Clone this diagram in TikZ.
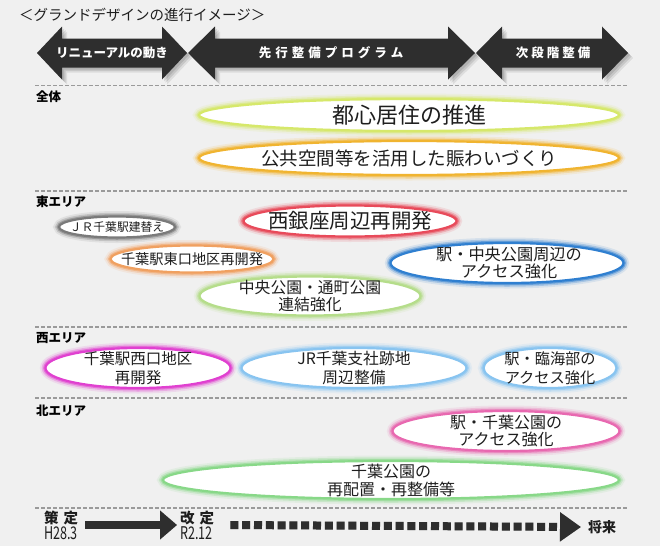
\documentclass[tikz,border=0pt]{standalone}
\usepackage{fontspec}
\setmainfont{Noto Sans CJK JP}
\usetikzlibrary{shapes.geometric,arrows.meta}
\definecolor{bg}{HTML}{F0F0F0}
\definecolor{dark}{HTML}{2E2E2E}
\definecolor{ink}{HTML}{1E1E1E}
\definecolor{dotc}{HTML}{9A9A9A}
\definecolor{cLime}{HTML}{D6E86A}
\definecolor{cGold}{HTML}{F0B430}
\definecolor{cGray}{HTML}{7A7A7A}
\definecolor{cRed}{HTML}{E84A5A}
\definecolor{cOrange}{HTML}{F0A060}
\definecolor{cBlue}{HTML}{2F7FD0}
\definecolor{cLGreen}{HTML}{B5DD8A}
\definecolor{cMagenta}{HTML}{E040D0}
\definecolor{cLBlue}{HTML}{88C4F0}
\definecolor{cPink}{HTML}{E868B0}
\definecolor{cGreen}{HTML}{88D888}
\newcommand\bannerpath[4]{(#1,53) -- (#2,26.5) -- (#2,38.5) -- (#3,38.5) -- (#3,26.5) -- (#4,53) -- (#3,79.5) -- (#3,67.5) -- (#2,67.5) -- (#2,79.5) -- cycle}
\newcommand\fsz[2]{\fontsize{#1}{#2}\selectfont}
\tikzset{
  glow/.style={ellipse, inner sep=0pt, fill=white, draw=#1, line width=2.2pt,
    preaction={draw=#1, fill=none, line width=11pt, draw opacity=0.13},
    preaction={draw=#1, fill=none, line width=7.5pt, draw opacity=0.28},
    preaction={draw=#1, fill=none, line width=4.5pt, draw opacity=0.55}},
  etext/.style={inner sep=0pt, align=center, text=ink},
  bannertext/.style={inner sep=0pt, text=white, font=\fsz{12.5}{14}\bfseries},
  arealabel/.style={inner sep=0pt, anchor=west, text=black, font=\fsz{12.5}{14}\bfseries},
  dotline/.style={dotc, line width=1.4pt, dash pattern=on 4pt off 2pt},
  fatarrow/.style={dark, line width=8pt, -{Triangle[length=17pt,width=28pt]}},
  sqarrow/.style={dark, line width=8pt, dash pattern=on 8pt off 3.8pt, -{Triangle[length=21pt,width=28pt]}},
}
\begin{document}
\begin{tikzpicture}[x=1pt,y=-1pt]
\fill[bg] (0,0) rectangle (660,546);
\useasboundingbox (0,0) rectangle (660,546);

% title
\node[inner sep=0pt, anchor=west, text=ink, font=\fsz{14.5}{16}] (title) at (19,15) {＜グランドデザインの進行イメージ＞};

% banners with shadow
\foreach \s/\o in {2/0.10,3.5/0.10,5/0.08}{
  \fill[black, opacity=\o, shift={(\s,\s)}] \bannerpath{37}{62}{162}{187};
  \fill[black, opacity=\o, shift={(\s,\s)}] \bannerpath{188}{215}{448}{475};
  \fill[black, opacity=\o, shift={(\s,\s)}] \bannerpath{476}{502}{602}{628};
}
\fill[dark] \bannerpath{37}{62}{162}{187};
\fill[dark] \bannerpath{188}{215}{448}{475};
\fill[dark] \bannerpath{476}{502}{602}{628};
\node[bannertext] (b1) at (112,53) {リニューアルの動き};
\node[bannertext] (b2) at (331,53) {先\hspace{4pt}行\hspace{4pt}整\hspace{4pt}備\hspace{4pt}プ\hspace{4pt}ロ\hspace{4pt}グ\hspace{4pt}ラ\hspace{4pt}ム};
\node[bannertext] (b3) at (553,53) {次\hspace{3pt}段\hspace{3pt}階\hspace{3pt}整\hspace{3pt}備};

% dotted separators
\foreach \yy in {85.5,191,327,398,508}{
  \draw[dotline] (35,\yy) -- (628,\yy);
}

% area labels
\node[arealabel] (l1) at (36,97) {全体};
\node[arealabel] (l2) at (36,202) {東エリア};
\node[arealabel] (l3) at (36,338) {西エリア};
\node[arealabel] (l4) at (36,411) {北エリア};

% 全体
\node[glow=cLime, minimum width=420pt, minimum height=32pt] (e1) at (409,115) {};
\node[etext, font=\fsz{22}{24}] (t1) at (e1) {都心居住の推進};
\node[glow=cGold, minimum width=420pt, minimum height=34pt] (e2) at (409,158) {};
\node[etext, font=\fsz{18.5}{20}] (t2) at (e2) {公共空間等を活用した賑わいづくり};

% 東エリア
\node[glow=cGray, minimum width=116pt, minimum height=21pt] (e3) at (117,227) {};
\node[etext, font=\fsz{11.8}{14}] (t3) at (e3) {ＪＲ千葉駅建替え};
\node[glow=cRed, minimum width=213pt, minimum height=31pt] (e4) at (350,221) {};
\node[etext, font=\fsz{20.5}{23}] (t4) at (e4) {西銀座周辺再開発};
\node[glow=cOrange, minimum width=163pt, minimum height=27pt] (e5) at (192,259) {};
\node[etext, font=\fsz{14.2}{16}] (t5) at (e5) {千葉駅東口地区再開発};
\node[glow=cBlue, minimum width=233pt, minimum height=40pt] (e6) at (507,263) {};
\node[etext, font=\fsz{16.2}{17}] (t6) at (509,263) {駅・中央公園周辺の\\アクセス強化};
\node[glow=cLGreen, minimum width=221pt, minimum height=39pt] (e7) at (310,296) {};
\node[etext, font=\fsz{15.8}{17}] (t7) at (e7) {中央公園・通町公園\\連結強化};

% 西エリア
\node[glow=cMagenta, minimum width=185pt, minimum height=40pt] (e8) at (138,368) {};
\node[etext, font=\fsz{15.5}{19}] (t8) at (e8) {千葉駅西口地区\\再開発};
\node[glow=cLBlue, minimum width=225pt, minimum height=40pt] (e9) at (354,368) {};
\node[etext, font=\fsz{15.8}{19}] (t9) at (e9) {JR千葉支社跡地\\周辺整備};
\node[glow=cLBlue, minimum width=133pt, minimum height=40pt] (e10) at (550,368) {};
\node[etext, font=\fsz{15.2}{19}] (t10) at (e10) {駅・臨海部の\\アクセス強化};

% 北エリア
\node[glow=cPink, minimum width=227pt, minimum height=40pt] (e11) at (506,431) {};
\node[etext, font=\fsz{16}{17}] (t11) at (e11) {駅・千葉公園の\\アクセス強化};
\node[glow=cGreen, minimum width=456pt, minimum height=38pt] (e12) at (391,480) {};
\node[etext, font=\fsz{16}{18}] (t12) at (e12) {千葉公園の\\再配置・再整備等};

% bottom timeline
\node[inner sep=0pt, anchor=west, align=left, text width=38pt, text=ink, font=\fsz{14.5}{16}] (s) at (44,525.5)
  {{\bfseries 策\hspace{5pt}定}\\\scalebox{0.72}[1]{\fsz{17.5}{16}H28.3}};
\node[inner sep=0pt, anchor=west, align=left, text width=38pt, text=ink, font=\fsz{14.5}{16}] (k) at (180,525.5)
  {{\bfseries 改\hspace{5pt}定}\\\scalebox{0.72}[1]{\fsz{17.5}{16}R2.12}};
\node[inner sep=0pt, anchor=west, text=ink, font=\fsz{14}{15}\bfseries] (f) at (588,527) {将来};
\draw[fatarrow, black, opacity=0.18, shift={(2,3)}] ([xshift=3pt,yshift=0.5pt]s.east) -- ([xshift=-3pt,yshift=0.5pt]k.west);
\draw[fatarrow] ([xshift=3pt,yshift=0.5pt]s.east) -- ([xshift=-3pt,yshift=0.5pt]k.west);
\draw[sqarrow, black, opacity=0.18, shift={(2,3)}] ([xshift=12pt,yshift=0.5pt]k.east) -- ([xshift=-7pt]f.west);
\draw[sqarrow] ([xshift=12pt,yshift=0.5pt]k.east) -- ([xshift=-7pt]f.west);
\end{tikzpicture}
\end{document}
